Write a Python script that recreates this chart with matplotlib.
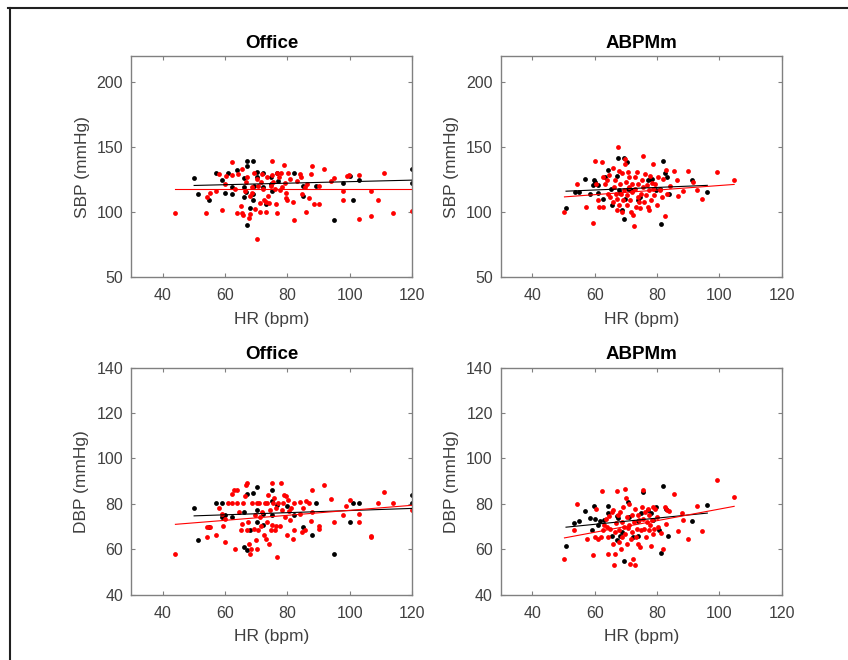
import numpy as np
import matplotlib.pyplot as plt
from matplotlib.lines import Line2D

plt.rcParams['font.family'] = ['Liberation Sans', 'DejaVu Sans']

# ---- Office: HR vs SBP ----
off_sbp_hr_k = [50.1, 51.2, 55.0, 57.1, 59.1, 60.1, 61.0, 62.1, 62.1, 64.0, 66.1, 67.2, 67.2, 66.1,
                66.1, 66.6, 67.2, 68.1, 69.1, 69.1, 69.1, 69.3, 70.1, 70.4, 72.2, 72.2, 73.3, 74.9,
                74.9, 75.1, 76.8, 77.1, 82.1, 85.1, 85.1, 89.1, 95.1, 97.9, 100.0, 101.0, 102.9,
                120.0, 120.0]
off_sbp_k = [126.2, 114.1, 109.5, 130.3, 124.4, 114.6, 130.3, 114.1, 119.7, 132.6, 126.4, 135.4,
             139.7, 111.5, 119.2, 115.4, 90.5, 103.3, 139.7, 114.1, 109.5, 120.5, 130.8, 127.4,
             130.3, 119.2, 105.9, 126.9, 121.3, 116.2, 130.3, 123.8, 130.3, 120.3, 112.1, 120.3,
             93.6, 122.3, 127.7, 109.7, 125.1, 133.3, 122.3]
off_sbp_hr_r = [44.1, 54.0, 54.2, 55.2, 57.1, 58.2, 58.9, 59.9, 60.2, 62.1, 62.4, 63.3, 64.0, 64.2,
                65.1, 65.3, 65.6, 65.9, 66.4, 66.7, 67.0, 67.7, 67.9, 68.1, 68.5, 68.8, 69.3, 69.6,
                70.2, 70.4, 70.7, 71.2, 71.3, 71.5, 72.0, 72.2, 72.5, 73.0, 73.3, 73.6, 73.9, 74.1,
                74.7, 75.0, 75.2, 75.4, 76.0, 76.3, 76.6, 76.8, 77.3, 77.7, 78.1, 78.4, 78.8, 79.2,
                79.5, 79.7, 80.0, 80.3, 80.9, 81.7, 82.1, 83.0, 84.0, 84.3, 84.8, 85.6, 86.1, 86.4,
                87.0, 87.7, 88.0, 88.4, 90.0, 90.1, 91.9, 93.9, 94.9, 97.8, 97.9, 99.2, 99.6, 102.9,
                103.0, 106.9, 106.9, 109.0, 111.0, 114.0, 120.0]
off_sbp_r = [99.7, 99.7, 111.5, 115.1, 116.2, 129.5, 101.3, 121.8, 127.7, 138.5, 128.2, 118.0, 99.7,
             129.0, 104.6, 133.1, 99.7, 97.9, 116.2, 123.1, 127.0, 95.6, 98.7, 112.8, 115.1, 119.2,
             130.0, 102.6, 79.2, 125.6, 120.5, 106.9, 100.0, 123.1, 129.5, 118.0, 109.5, 100.0,
             107.7, 126.9, 112.8, 106.9, 120.5, 139.5, 128.2, 123.1, 118.0, 106.4, 130.0, 99.2,
             127.4, 117.2, 130.5, 119.2, 136.2, 122.6, 114.6, 111.0, 109.5, 130.3, 125.6, 107.7,
             93.6, 123.6, 129.0, 127.4, 113.6, 119.2, 100.0, 121.3, 111.0, 129.0, 135.7, 105.9,
             120.3, 105.9, 133.1, 123.8, 126.2, 116.2, 109.5, 127.7, 128.7, 128.2, 94.4, 116.2,
             97.4, 109.5, 130.3, 99.7, 100.7]

# ---- Office: HR vs DBP ----
off_dbp_hr_k = [50.1, 51.2, 55.0, 57.1, 59.1, 59.1, 60.1, 62.1, 66.1, 66.1, 67.2, 67.2, 68.1, 69.1,
                70.1, 70.1, 70.1, 72.2, 72.2, 75.0, 75.1, 75.1, 76.8, 80.0, 82.1, 85.1, 88.0, 89.1,
                95.1, 100.0, 101.0, 102.9, 120.0, 120.0]
off_dbp_k = [78.0, 64.0, 69.9, 80.2, 80.2, 74.3, 75.0, 74.3, 61.0, 76.5, 84.3, 59.6, 68.4, 84.9,
             87.2, 77.2, 72.1, 75.7, 70.6, 86.3, 81.3, 75.0, 79.4, 79.0, 75.0, 69.9, 66.2, 80.2,
             58.1, 72.1, 80.2, 80.2, 84.1, 80.2]
off_dbp_hr_r = [44.1, 54.2, 54.2, 55.2, 57.1, 58.2, 58.9, 59.2, 59.9, 60.1, 61.1, 62.1, 62.1, 63.0,
                63.2, 64.0, 64.0, 64.5, 65.1, 65.6, 65.9, 66.4, 66.7, 67.0, 67.2, 67.4, 67.7, 67.9,
                68.3, 68.8, 69.3, 69.6, 69.9, 70.2, 70.4, 70.6, 70.9, 71.3, 71.5, 72.0, 72.5, 72.8,
                73.1, 73.4, 73.6, 73.9, 74.1, 74.5, 74.7, 75.0, 75.2, 75.5, 75.7, 76.0, 76.3, 76.5,
                76.8, 77.1, 77.7, 78.0, 78.2, 78.6, 78.9, 79.3, 79.6, 79.9, 80.2, 80.6, 80.9, 81.3,
                81.8, 82.1, 82.1, 84.0, 84.1, 84.8, 85.1, 85.7, 86.1, 87.0, 87.7, 88.0, 88.0, 90.1,
                90.1, 91.9, 93.9, 94.9, 97.9, 98.9, 100.0, 103.1, 103.1, 106.9, 106.9, 109.0, 111.0,
                114.0, 120.0]
off_dbp_r = [58.1, 65.2, 69.9, 69.9, 66.2, 78.0, 75.7, 70.2, 63.2, 73.5, 80.2, 84.3, 80.2, 86.0,
             60.0, 86.0, 80.2, 76.5, 68.4, 71.3, 80.2, 83.4, 88.2, 89.3, 68.4, 72.1, 62.5, 58.1,
             60.0, 80.2, 69.1, 75.0, 64.0, 80.2, 60.0, 68.4, 80.2, 74.3, 70.2, 76.5, 66.2, 80.2,
             64.3, 72.1, 80.2, 83.8, 62.2, 77.2, 68.4, 89.0, 70.6, 80.2, 82.4, 68.4, 78.0, 70.2,
             56.6, 80.2, 70.2, 89.3, 77.2, 80.2, 84.1, 74.3, 83.4, 66.2, 81.6, 76.8, 73.1, 78.0,
             64.3, 68.4, 80.2, 75.7, 80.9, 67.7, 78.0, 68.4, 81.3, 80.2, 72.5, 86.0, 76.5, 70.2,
             69.1, 88.1, 82.1, 72.1, 75.0, 79.1, 81.9, 75.4, 72.1, 65.7, 65.2, 80.2, 85.0, 80.2,
             77.2]

# ---- ABPMm: HR vs SBP ----
abp_sbp_hr_k = [50.8, 53.7, 55.1, 56.9, 58.5, 59.4, 59.9, 60.1, 60.9, 61.2, 62.8, 63.3, 64.4, 65.1,
                65.4, 67.0, 67.4, 67.7, 68.1, 68.7, 69.4, 69.5, 69.7, 70.3, 70.6, 71.3, 72.2, 74.0,
                74.5, 77.2, 77.7, 78.3, 79.7, 80.9, 81.3, 82.0, 82.5, 83.1, 83.9, 91.1, 96.1]
abp_sbp_k = [103.5, 115.6, 115.6, 125.6, 114.3, 120.6, 124.9, 123.1, 114.8, 120.6, 110.5, 126.9,
             132.4, 118.1, 105.5, 128.1, 141.5, 116.8, 114.8, 101.8, 94.7, 141.5, 110.5, 138.9,
             118.1, 117.3, 116.8, 109.3, 111.8, 124.9, 125.6, 125.6, 116.8, 118.1, 90.9, 139.4,
             129.8, 127.4, 114.3, 124.9, 115.6]
abp_sbp_hr_r = [50.3, 54.2, 57.2, 59.6, 60.1, 60.4, 60.9, 61.5, 62.2, 62.5, 62.8, 63.3, 63.8, 64.2,
                64.7, 64.9, 65.8, 66.0, 66.2, 66.6, 66.8, 67.0, 67.3, 67.5, 67.7, 67.9, 68.1, 68.3,
                68.7, 68.9, 69.2, 69.4, 69.6, 69.8, 70.0, 70.3, 70.5, 70.7, 70.9, 71.1, 71.3, 71.5,
                71.9, 72.1, 72.4, 72.6, 72.8, 73.0, 73.2, 73.5, 73.8, 74.0, 74.3, 74.5, 74.8, 75.2,
                75.4, 75.6, 75.8, 76.1, 76.4, 76.7, 77.0, 77.3, 77.5, 77.7, 78.0, 78.4, 78.6, 78.8,
                79.1, 79.4, 79.9, 80.4, 80.9, 81.5, 82.0, 82.5, 82.9, 83.3, 84.1, 85.4, 86.3, 86.8,
                88.4, 90.0, 91.4, 92.7, 94.3, 99.3, 104.7]
abp_sbp_r = [100.5, 121.9, 104.3, 91.7, 139.4, 121.9, 109.3, 104.3, 138.2, 126.9, 104.3, 121.9,
             124.4, 114.3, 128.9, 111.8, 133.9, 108.0, 119.3, 124.4, 114.3, 101.8, 110.5, 150.0,
             131.9, 105.5, 121.9, 114.3, 129.9, 100.5, 109.3, 116.8, 136.9, 140.7, 123.1, 105.5,
             113.1, 130.7, 119.3, 126.9, 109.3, 100.5, 121.9, 115.6, 98.0, 89.2, 126.9, 118.1,
             104.3, 130.7, 111.8, 121.9, 108.0, 103.0, 114.3, 124.4, 119.3, 143.2, 108.0, 129.4,
             113.1, 120.6, 104.3, 116.8, 101.8, 128.1, 109.3, 122.4, 118.1, 137.4, 113.1, 121.9,
             105.5, 126.9, 116.8, 111.8, 125.6, 96.7, 132.4, 114.3, 119.8, 131.9, 124.4, 112.3,
             116.3, 131.9, 123.1, 116.8, 110.5, 130.7, 124.4]

# ---- ABPMm: HR vs DBP ----
abp_dbp_hr_k = [50.8, 53.5, 55.1, 56.9, 58.5, 59.0, 59.8, 60.1, 60.9, 61.7, 63.1, 64.1, 64.4, 65.5,
                67.0, 67.3, 67.6, 68.1, 68.7, 69.4, 70.8, 71.1, 72.2, 73.8, 74.0, 74.8, 75.6, 77.2,
                78.0, 78.6, 79.7, 80.7, 81.1, 81.8, 82.8, 83.6, 91.1, 96.1]
abp_dbp_k = [61.3, 71.5, 72.4, 76.8, 73.9, 68.6, 79.0, 73.4, 70.5, 72.4, 72.7, 75.9, 79.0, 66.0,
             74.5, 64.1, 73.7, 66.0, 67.5, 55.0, 80.8, 74.2, 65.3, 66.0, 72.4, 75.9, 85.2, 77.1,
             75.9, 73.0, 78.6, 68.6, 58.2, 87.7, 77.6, 66.0, 72.3, 79.3]
abp_dbp_hr_r = [50.3, 53.2, 54.2, 57.4, 59.6, 60.1, 60.4, 60.9, 61.9, 62.2, 62.6, 63.0, 63.6, 63.8,
                64.1, 64.4, 64.7, 64.9, 65.5, 65.8, 66.0, 66.2, 66.4, 66.6, 66.8, 67.3, 67.5, 67.7,
                67.9, 68.1, 68.3, 68.7, 68.9, 69.2, 69.4, 69.6, 69.8, 70.0, 70.3, 70.5, 70.7, 70.9,
                71.1, 71.3, 71.5, 71.9, 72.1, 72.4, 72.6, 72.8, 73.0, 73.2, 73.5, 73.8, 74.0, 74.3,
                74.5, 74.8, 75.2, 75.4, 75.6, 75.8, 76.1, 76.4, 76.7, 77.0, 77.3, 77.5, 77.7, 78.0,
                78.4, 78.6, 78.8, 79.1, 79.4, 79.9, 80.4, 81.1, 82.0, 82.5, 82.9, 83.3, 83.9, 85.4,
                86.8, 87.9, 88.4, 90.0, 92.7, 94.3, 99.3, 104.7]
abp_dbp_r = [55.7, 68.6, 80.1, 64.6, 57.6, 65.3, 77.9, 64.6, 65.3, 85.7, 68.3, 70.5, 73.4, 69.7,
             65.6, 57.9, 74.5, 69.0, 76.4, 62.4, 77.1, 53.2, 57.9, 67.5, 71.5, 85.7, 74.9, 63.1,
             68.6, 76.4, 60.1, 71.9, 65.3, 78.6, 70.0, 86.7, 66.5, 82.7, 74.2, 62.1, 69.4, 79.8,
             70.5, 53.5, 64.6, 74.9, 67.5, 55.7, 71.9, 77.9, 53.2, 65.3, 69.0, 74.9, 62.1, 72.7,
             60.9, 68.3, 78.6, 73.4, 86.3, 69.0, 76.4, 65.3, 71.9, 77.9, 68.3, 74.9, 70.5, 61.6,
             72.7, 66.8, 78.6, 69.0, 77.9, 74.2, 69.7, 67.1, 60.1, 78.6, 71.2, 77.1, 76.8, 84.5,
             67.9, 75.9, 72.7, 64.6, 78.9, 67.9, 90.4, 83.0]

# fitted lines (slope, intercept) per group
fit_off_sbp_k, fit_off_sbp_r = (0.0586, 117.6), (0.0, 117.5)
fit_off_dbp_k, fit_off_dbp_r = (0.047, 72.35), (0.1105, 66.1)
fit_abp_sbp_k, fit_abp_sbp_r = (0.099, 111.1), (0.176, 102.9)
fit_abp_dbp_k, fit_abp_dbp_r = (0.137, 62.76), (0.2555, 52.15)

panels = [
    ("Office", "SBP (mmHg)", (50, 220), [50, 100, 150, 200],
     (off_sbp_hr_k, off_sbp_k, fit_off_sbp_k), (off_sbp_hr_r, off_sbp_r, fit_off_sbp_r)),
    ("ABPMm", "SBP (mmHg)", (50, 220), [50, 100, 150, 200],
     (abp_sbp_hr_k, abp_sbp_k, fit_abp_sbp_k), (abp_sbp_hr_r, abp_sbp_r, fit_abp_sbp_r)),
    ("Office", "DBP (mmHg)", (40, 140), [40, 60, 80, 100, 120, 140],
     (off_dbp_hr_k, off_dbp_k, fit_off_dbp_k), (off_dbp_hr_r, off_dbp_r, fit_off_dbp_r)),
    ("ABPMm", "DBP (mmHg)", (40, 140), [40, 60, 80, 100, 120, 140],
     (abp_dbp_hr_k, abp_dbp_k, fit_abp_dbp_k), (abp_dbp_hr_r, abp_dbp_r, fit_abp_dbp_r)),
]

fig = plt.figure(figsize=(8.48, 6.6), dpi=100)
boxes = [[0.155, 0.580, 0.331, 0.335], [0.591, 0.580, 0.331, 0.335],
         [0.155, 0.099, 0.331, 0.344], [0.591, 0.099, 0.331, 0.344]]
ax_col = '#808080'
txt_col = '#404040'

for box, (title, ylab, ylim, yticks, blk, red) in zip(boxes, panels):
    ax = fig.add_axes(box)
    for (hr, bp, fit), c in ((blk, 'black'), (red, 'red')):
        ax.scatter(hr, bp, s=12, c=c, linewidths=0, zorder=2)
    for (hr, bp, fit), c in ((blk, 'black'), (red, 'red')):
        xs = np.array([min(hr), max(hr)])
        ax.plot(xs, fit[0] * xs + fit[1], color=c, lw=0.8, zorder=3)
    ax.set_xlim(30, 120)
    ax.set_ylim(*ylim)
    ax.set_xticks([40, 60, 80, 100, 120])
    ax.set_yticks(yticks)
    ax.tick_params(direction='in', length=3, width=0.8, color=ax_col, labelcolor=txt_col,
                   labelsize=11.5, top=True, right=True)
    ax.tick_params(axis='x', pad=8)
    ax.tick_params(axis='y', pad=6)
    for s in ax.spines.values():
        s.set_color(ax_col)
        s.set_linewidth(1.0)
    ax.set_title(title, fontsize=13.5, fontweight='bold', pad=6)
    ax.set_xlabel("HR (bpm)", fontsize=12.5, color=txt_col, labelpad=6)
    ax.set_ylabel(ylab, fontsize=12.5, color=txt_col, labelpad=5)

# screenshot-style border along the top and left edges
fig.add_artist(Line2D([0.009, 1.0], [0.988, 0.988], color='#202020', lw=1.5))
fig.add_artist(Line2D([0.012, 0.012], [0.0, 0.988], color='#202020', lw=1.5))

fig.savefig("out.png", dpi=100, facecolor='white')
